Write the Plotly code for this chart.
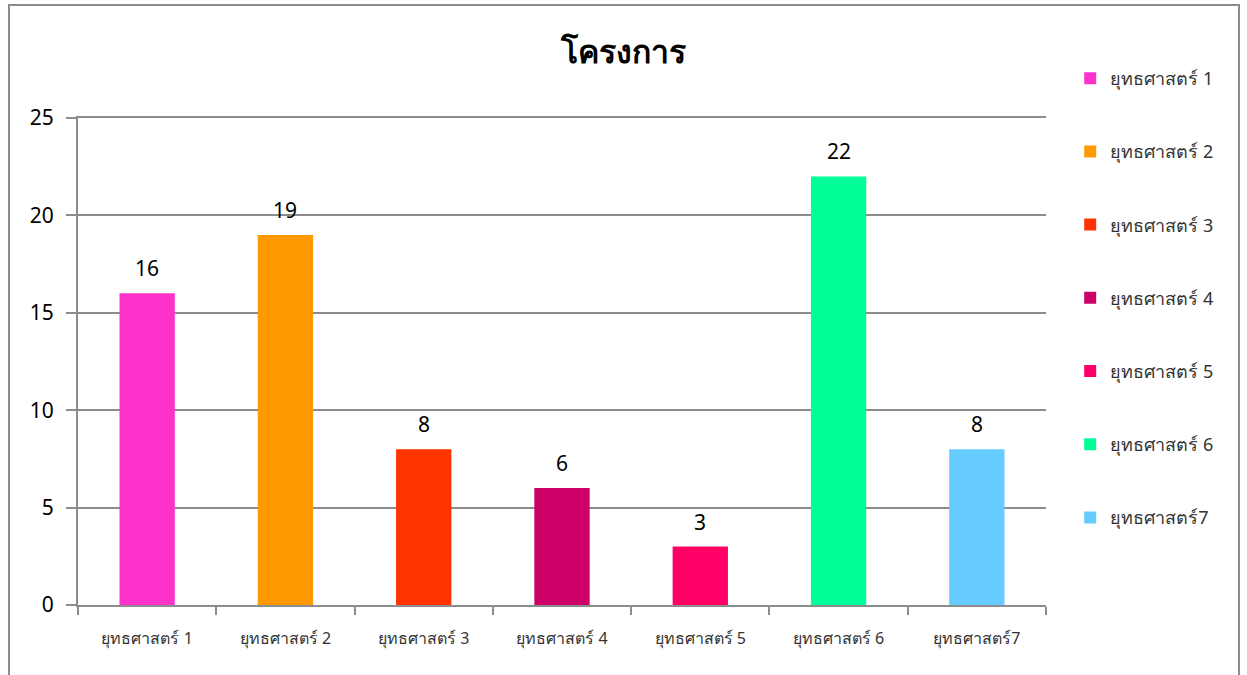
import plotly.graph_objects as go

categories = ["ยุทธศาสตร์ 1", "ยุทธศาสตร์ 2", "ยุทธศาสตร์ 3", "ยุทธศาสตร์ 4",
              "ยุทธศาสตร์ 5", "ยุทธศาสตร์ 6", "ยุทธศาสตร์7"]
values = [16, 19, 8, 6, 3, 22, 8]
colors = ["#FF33CC", "#FF9900", "#FF3300", "#CC0066", "#FF0066", "#00FF99", "#66CCFF"]
y_ticks = [0, 5, 10, 15, 20, 25]
title_text = "โครงการ"

fig = go.Figure()
for c, v, col in zip(categories, values, colors):
    fig.add_trace(go.Bar(
        x=[c], y=[v], name=c, legendgroup=c,
        marker=dict(color=col, line=dict(width=0)),
        width=0.4,
    ))
    fig.add_annotation(x=c, y=v, text=str(v), showarrow=False, yshift=25,
                       font=dict(size=21, color="black", family="Noto Sans"))

fig.update_layout(
    width=1247, height=675,
    margin=dict(l=78, r=201, t=118, b=70, autoexpand=False),
    paper_bgcolor="white", plot_bgcolor="white",
    title=dict(text="<b>" + title_text + "</b>", x=0.5, xanchor="center",
               y=1 - 52/675, yanchor="middle",
               font=dict(size=32, color="black", family="Noto Sans")),
    barmode="overlay",
    showlegend=True,
    legend=dict(x=1.025, xanchor="left", y=1 + (118 - 60)/487, yanchor="top",
                tracegroupgap=46.8, font=dict(size=18, color="#333333", family="Noto Sans"),
                itemwidth=30, bgcolor="rgba(0,0,0,0)", maxheight=600),
    xaxis=dict(categoryorder="array", categoryarray=categories,
               showline=True, linecolor="#8c8c8c", linewidth=2, mirror=True,
               ticks="outside", tickson="boundaries", ticklen=8, tickcolor="#8c8c8c", tickwidth=2,
               tickfont=dict(size=16, color="#333333", family="Noto Sans"),
               ticklabelstandoff=18,
               showgrid=False, range=[-0.5, 6.5]),
    yaxis=dict(range=[0, 25], tickvals=y_ticks, showline=True, linecolor="#8c8c8c", linewidth=2,
               ticks="outside", ticklen=10, tickcolor="#8c8c8c", tickwidth=2,
               showgrid=True, gridcolor="#8c8c8c", gridwidth=1.5,
               tickfont=dict(size=21, color="black", family="Noto Sans"),
               ticklabelstandoff=8,
               zeroline=False),
)

fig.add_shape(type="rect", xref="paper", yref="paper",
              x0=(9-78)/968, x1=(1239-78)/968, y0=(605-720)/487, y1=(605-5)/487,
              line=dict(color="#8c8c8c", width=2), fillcolor="rgba(0,0,0,0)", layer="below")

fig.write_html("out.html", config={"displayModeBar": False},
               post_script="document.body.style.margin='0';document.body.style.overflow='hidden';")
